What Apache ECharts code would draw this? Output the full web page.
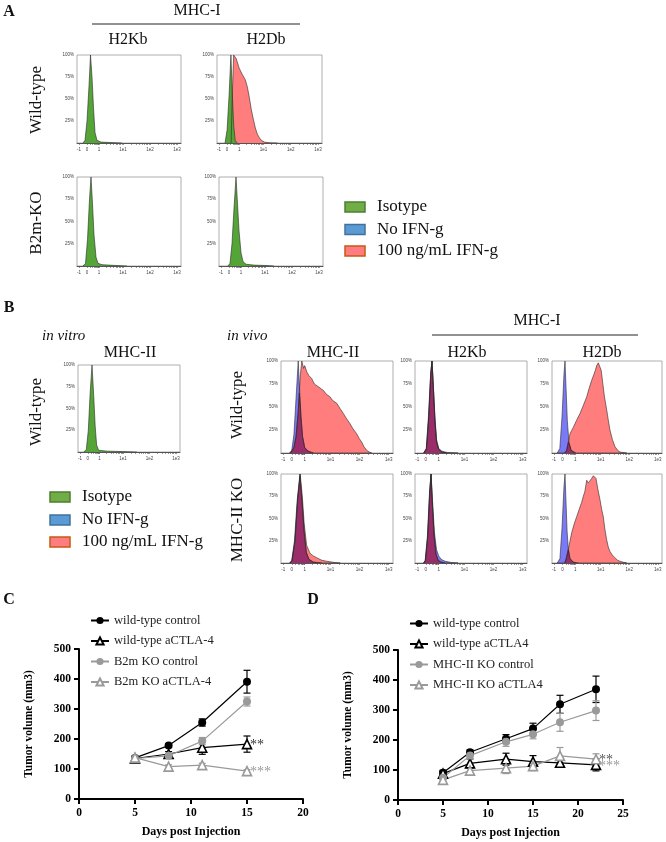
<!DOCTYPE html>
<html>
<head>
<meta charset="utf-8">
<script src="https://cdn.jsdelivr.net/npm/echarts@6/dist/echarts.min.js"></script>
<style>
  html, body { margin: 0; padding: 0; background: #fff; }
  #main { width: 666px; height: 842px; }
</style>
</head>
<body>
<div id="main"></div>
<script>
// ---- flow histograms: [position on display axis, % of max] ----
var histTickLabels = ["-1", "0", "1", "1e1", "1e2", "1e3"];
var histTickPos = [2, 10, 22, 46, 73, 100];
var histYTicks = [25, 50, 75, 100];

// panel A
var aWtKbIso = [[6,0],[8,3],[10,25],[12,65],[13.5,100],[15,75],[16.5,40],[18,12],[20,3],[24,1],[34,0.5],[45,0]];
var aWtDbIso = [[8,0],[10,15],[12,55],[13.8,100],[15,60],[16.5,20],[18,3],[20,0]];
var aWtDbIfn = [[14,0],[15,50],[16.5,100],[19,96],[22,85],[25,78],[28,72],[30,64],[32,52],[34,38],[36,27],[38,17],[40,10],[42,6],[44,3],[47,1],[52,0.3],[60,0]];
var aKoKbIso = [[6,0],[8.5,3],[10.5,30],[12.5,75],[14,100],[15.5,70],[17,35],[19,10],[21,3],[25,1.5],[32,1],[40,0.5],[50,0]];
var aKoDbIso = [[9,0],[11,3],[13,25],[15,65],[17,100],[18.5,70],[20,40],[22,15],[24,5],[27,2],[35,1],[48,0.5],[55,0]];

// panel B, in vitro
var bVitroIso = [[6,0],[8.5,3],[10.5,25],[12.5,70],[14.3,100],[16,65],[17.5,30],[19,8],[21,2],[30,1],[45,0.5],[60,0]];

// panel B, in vivo (blue = no IFN-g, red = 100 ng/mL IFN-g)
var bWtMhc2Blue = [[8,0],[10,3],[12,20],[14,60],[16,100],[17,75],[18.5,40],[20,18],[22,6],[25,2],[30,0]];
var bWtMhc2Red = [[9,0],[12,6],[14,18],[16,45],[18,85],[19.3,100],[21,92],[22,95],[24,88],[26,84],[28.5,81],[30,83],[31,75],[34.7,72],[37,70],[39.4,68],[40.5,70],[42,64],[45.6,61],[47,62],[48,57],[51.8,54],[53,55],[55,48],[57.9,43],[61,37],[64,32],[67,26],[70.3,21],[72.5,16],[74.9,12],[77,7],[79.5,3],[82,1],[84.2,0]];
var bWtKbBlue = [[8,0],[10.5,5],[12.5,40],[14.5,85],[15.8,100],[17,75],[18.5,40],[20,15],[22,5],[25,2],[30,0.5],[40,0]];
var bWtKbRed = [[8.5,0],[10.8,5],[12.8,40],[14.7,88],[15.8,100],[17,72],[18.5,35],[20,12],[22,4],[25,1],[30,0]];
var bWtDbBlue = [[5,0],[7.4,5],[9.5,40],[11.3,85],[12.3,100],[13.3,70],[14.5,35],[16,12],[18,3],[22,0]];
var bWtDbRed = [[12,0],[13.9,3],[15.5,12],[17,21],[20.2,28],[23,35],[26.5,43],[29,50],[32.8,61],[35,70],[37.5,79],[39.5,85],[41,90],[42.2,95],[43.8,98],[44.5,96],[45.4,98],[46.5,90],[47.9,77],[49.5,62],[51.7,47],[53.2,36],[54.8,25],[57,15],[59.5,7],[62,3],[64.3,1],[70.6,0]];
var bKoMhc2Blue = [[8,0],[10,3],[12.5,25],[15,70],[17.6,100],[19.5,70],[21.5,35],[23.5,12],[26,4],[30,1],[38,0]];
var bKoMhc2Red = [[8.5,0],[10.5,3],[13,25],[15.5,72],[17.8,100],[19.8,75],[21.5,45],[23.8,20],[26.9,11],[30,8],[33.1,6],[38,3],[42.4,2],[50,0.5],[55,0]];
var bKoKbBlue = [[8,0],[9.5,3],[11.5,30],[13.5,80],[14.9,100],[16.3,70],[18,35],[20,15],[22,8],[24.5,4],[28,2],[34,0.5],[40,0]];
var bKoKbRed = [[8,0],[9.8,3],[11.8,30],[13.7,80],[14.9,100],[16.2,65],[17.8,30],[19.5,10],[21.5,3],[24,1],[28,0]];
var bKoDbBlue = [[5,0],[7.5,5],[9.5,40],[11.3,85],[12.3,100],[13.2,70],[14.3,35],[15.5,15],[17,5],[20,1],[24,0]];
var bKoDbRed = [[12,0],[13.5,5],[15.4,15],[18.6,34],[21,44],[23.3,52],[26.5,63],[28,68],[29.6,75],[31,80],[32.8,93],[34.3,90],[35.9,88],[37.5,95],[39.1,98],[40.3,100],[41.6,95],[43.5,82],[45.4,71],[47,60],[48.5,52],[50,38],[51.7,26],[53.2,18],[54.8,13],[57,9],[59.5,6],[62,3],[64.3,2],[67,1],[70.6,0]];

// ---- tumour growth (C and D) ----
var cDays = [5, 8, 11, 15];
var cWtCtrl = [137, 178, 255, 391];
var cWtCtrlErr = [6, 6, 12, 38];
var cWtCtla = [135, 150, 171, 183];
var cWtCtlaErr = [5, 8, 22, 27];
var cKoCtrl = [135, 144, 193, 325];
var cKoCtrlErr = [5, 6, 12, 15];
var cKoCtla = [138, 108, 113, 93];
var cKoCtlaErr = [5, 6, 6, 5];

var dDays = [5, 8, 12, 15, 18, 22];
var dWtCtrl = [91, 159, 204, 238, 319, 369];
var dWtCtrlErr = [8, 8, 14, 18, 30, 44];
var dWtCtla = [88, 122, 136, 128, 124, 117];
var dWtCtlaErr = [8, 15, 20, 20, 15, 20];
var dKoCtrl = [74, 148, 194, 219, 259, 298];
var dKoCtrlErr = [6, 10, 15, 15, 30, 33];
var dKoCtla = [67, 98, 106, 113, 147, 136];
var dKoCtlaErr = [6, 10, 18, 15, 28, 18];

var SERIF = "'Liberation Serif', 'Times New Roman', serif";
var GREEN = "#55a437", BLUE = "#7a7af6", RED = "#ff7d7d", PURPLE = "#9a2c6a";
var GRAY = "#9a9a9a";

var chartDom = document.getElementById("main");
var myChart = echarts.init(chartDom, null, { renderer: "canvas" });

// grid boxes for the 11 histograms
var histBoxes = [
  { left: 77, top: 55, width: 104, height: 88 },
  { left: 217, top: 55, width: 105, height: 88 },
  { left: 77, top: 177, width: 104, height: 89 },
  { left: 219, top: 177, width: 104, height: 89 },
  { left: 78, top: 365, width: 102, height: 87 },
  { left: 281, top: 361, width: 112, height: 92 },
  { left: 415, top: 361, width: 112, height: 92 },
  { left: 552, top: 361, width: 110, height: 92 },
  { left: 281, top: 474, width: 112, height: 89 },
  { left: 415, top: 474, width: 112, height: 89 },
  { left: 552, top: 474, width: 110, height: 89 },
];

// minor ticks between decades (log spacing)
var minorTicks = histTickPos.slice();
[[1, 2], [2, 3], [3, 4], [4, 5]].forEach(function (pair) {
  var a = histTickPos[pair[0]], b = histTickPos[pair[1]];
  for (var k = 2; k <= 9; k++) minorTicks.push(a + (b - a) * Math.log10(k));
});

function interp(pts, x) {
  if (x <= pts[0][0] || x >= pts[pts.length - 1][0]) return 0;
  for (var i = 1; i < pts.length; i++) {
    if (x <= pts[i][0]) {
      var t = (x - pts[i - 1][0]) / (pts[i][0] - pts[i - 1][0]);
      return pts[i - 1][1] + t * (pts[i][1] - pts[i - 1][1]);
    }
  }
  return 0;
}
function overlap(a, b) {
  var xs = a.map(function (p) { return p[0]; }).concat(b.map(function (p) { return p[0]; }));
  xs.sort(function (p, q) { return p - q; });
  var out = [];
  for (var i = 0; i < xs.length; i++) {
    if (i > 0 && xs[i] === xs[i - 1]) continue;
    out.push([xs[i], Math.min(interp(a, xs[i]), interp(b, xs[i]))]);
  }
  return out;
}

var grids = [], xAxes = [], yAxes = [], series = [];
histBoxes.forEach(function (b, i) {
  grids.push({ left: b.left, top: b.top, width: b.width, height: b.height, show: true, borderColor: "#9a9a9a", borderWidth: 0.8 });
  xAxes.push({
    gridIndex: i, type: "value", min: 0, max: 104,
    axisLine: { show: true, lineStyle: { color: "#333", width: 0.8 } },
    axisTick: { show: true, customValues: minorTicks, length: 2, lineStyle: { color: "#555", width: 0.6 } },
    axisLabel: {
      customValues: histTickPos, fontSize: 4.5, color: "#444", margin: 4, fontFamily: "Arial",
      formatter: function (v) { var k = histTickPos.indexOf(v); return k >= 0 ? histTickLabels[k] : ""; },
    },
    splitLine: { show: false },
  });
  yAxes.push({
    gridIndex: i, type: "value", min: 0, max: 100,
    axisLine: { show: false }, axisTick: { show: false },
    axisLabel: { customValues: histYTicks, fontSize: 4.5, color: "#444", margin: 3, fontFamily: "Arial", formatter: "{value}%" },
    splitLine: { show: false },
  });
});

function hist(gi, data, color) {
  series.push({
    type: "line", xAxisIndex: gi, yAxisIndex: gi, data: data, symbol: "none", silent: true,
    lineStyle: { color: "#2a2a2a", width: 0.6 }, areaStyle: { color: color, opacity: 1 },
    animation: false,
  });
}

hist(0, aWtKbIso, GREEN);
hist(1, aWtDbIfn, RED);
hist(1, aWtDbIso, GREEN);
hist(2, aKoKbIso, GREEN);
hist(3, aKoDbIso, GREEN);
hist(4, bVitroIso, GREEN);
[[5, bWtMhc2Blue, bWtMhc2Red], [6, bWtKbBlue, bWtKbRed], [7, bWtDbBlue, bWtDbRed],
 [8, bKoMhc2Blue, bKoMhc2Red], [9, bKoKbBlue, bKoKbRed], [10, bKoDbBlue, bKoDbRed]].forEach(function (p) {
  hist(p[0], p[1], BLUE);
  hist(p[0], p[2], RED);
  hist(p[0], overlap(p[1], p[2]), PURPLE);
});

// ---- C and D ----
var gC = histBoxes.length, gD = gC + 1;
grids.push({ left: 79, top: 649, width: 224, height: 150 });
grids.push({ left: 398, top: 650, width: 225, height: 150 });

function growthAxes(gi, xmax) {
  var lab = { fontFamily: SERIF, fontWeight: "bold", fontSize: 11.5, color: "#000" };
  xAxes.push({
    gridIndex: gi, type: "value", min: 0, max: xmax, interval: 5,
    name: "Days post Injection", nameLocation: "middle", nameGap: 27,
    nameTextStyle: { fontFamily: SERIF, fontWeight: "bold", fontSize: 12, color: "#000" },
    axisLine: { lineStyle: { color: "#000", width: 2 } },
    axisTick: { length: 5, lineStyle: { color: "#000", width: 2 } },
    axisLabel: Object.assign({ margin: 8 }, lab),
    splitLine: { show: false },
  });
  yAxes.push({
    gridIndex: gi, type: "value", min: 0, max: 500, interval: 100,
    name: "Tumor volume (mm3)", nameLocation: "middle", nameGap: 44, nameRotate: 90,
    nameTextStyle: { fontFamily: SERIF, fontWeight: "bold", fontSize: 11.5, color: "#000" },
    axisLine: { show: true, lineStyle: { color: "#000", width: 2 } },
    axisTick: { show: true, length: 5, lineStyle: { color: "#000", width: 2 } },
    axisLabel: Object.assign({ margin: 8 }, lab),
    splitLine: { show: false },
  });
}
growthAxes(gC, 20);
growthAxes(gD, 25);

function errBars(gi, days, mean, err, color) {
  series.push({
    type: "custom", xAxisIndex: gi, yAxisIndex: gi, z: 1, silent: true, animation: false,
    data: days.map(function (d, i) { return [d, mean[i] - err[i], mean[i] + err[i]]; }),
    encode: { x: 0, y: [1, 2] },
    renderItem: function (params, api) {
      var lo = api.coord([api.value(0), api.value(1)]);
      var hi = api.coord([api.value(0), api.value(2)]);
      var st = { stroke: color, lineWidth: 1.2 };
      return {
        type: "group", children: [
          { type: "line", shape: { x1: lo[0], y1: lo[1], x2: hi[0], y2: hi[1] }, style: st },
          { type: "line", shape: { x1: lo[0] - 3.5, y1: lo[1], x2: lo[0] + 3.5, y2: lo[1] }, style: st },
          { type: "line", shape: { x1: hi[0] - 3.5, y1: hi[1], x2: hi[0] + 3.5, y2: hi[1] }, style: st },
        ],
      };
    },
  });
}

function growth(gi, name, days, mean, color, open, star, starColor) {
  var s = {
    name: name, type: "line", xAxisIndex: gi, yAxisIndex: gi, z: 3, animation: false,
    data: days.map(function (d, i) { return [d, mean[i]]; }),
    symbol: open ? "triangle" : "circle", symbolSize: open ? 9 : 8,
    itemStyle: open ? { color: "#fff", borderColor: color, borderWidth: 1.6 } : { color: color },
    lineStyle: { color: color, width: 1.2 },
  };
  if (star) {
    s.endLabel = { show: true, formatter: star, color: starColor, fontSize: 14, fontFamily: SERIF, distance: 3, offset: [0, 1] };
  }
  series.push(s);
}

errBars(gC, cDays, cWtCtrl, cWtCtrlErr, "#000");
errBars(gC, cDays, cWtCtla, cWtCtlaErr, "#000");
errBars(gC, cDays, cKoCtrl, cKoCtrlErr, GRAY);
errBars(gC, cDays, cKoCtla, cKoCtlaErr, GRAY);
growth(gC, "wild-type control", cDays, cWtCtrl, "#000", false);
growth(gC, "wild-type aCTLA-4", cDays, cWtCtla, "#000", true, "**", "#333");
growth(gC, "B2m KO control", cDays, cKoCtrl, GRAY, false);
growth(gC, "B2m KO aCTLA-4", cDays, cKoCtla, GRAY, true, "***", GRAY);

errBars(gD, dDays, dWtCtrl, dWtCtrlErr, "#000");
errBars(gD, dDays, dWtCtla, dWtCtlaErr, "#000");
errBars(gD, dDays, dKoCtrl, dKoCtrlErr, GRAY);
errBars(gD, dDays, dKoCtla, dKoCtlaErr, GRAY);
growth(gD, "wild-type control ", dDays, dWtCtrl, "#000", false);
growth(gD, "wild-type aCTLA4", dDays, dWtCtla, "#000", true, "***", GRAY);
growth(gD, "MHC-II KO control", dDays, dKoCtrl, GRAY, false);
growth(gD, "MHC-II KO aCTLA4", dDays, dKoCtla, GRAY, true, "**", "#555");

var legendText = { fontFamily: SERIF, fontSize: 12.5, color: "#222" };
var legends = [
  { left: 90, top: 614, padding: 0, orient: "vertical", itemWidth: 18, itemHeight: 9, itemGap: 7.5, textStyle: legendText, selectedMode: false,
    data: ["wild-type control", "wild-type aCTLA-4", "B2m KO control", "B2m KO aCTLA-4"] },
  { left: 409, top: 617, padding: 0, orient: "vertical", itemWidth: 18, itemHeight: 9, itemGap: 7.5, textStyle: legendText, selectedMode: false,
    data: ["wild-type control ", "wild-type aCTLA4", "MHC-II KO control", "MHC-II KO aCTLA4"] },
];

// ---- text, headers, legends for flow panels ----
function txt(text, x, y, size, opts) {
  opts = opts || {};
  return {
    type: "text", x: x, y: y, rotation: opts.rot || 0, silent: true,
    style: {
      text: text, fill: "#111", align: opts.align || "center", verticalAlign: "middle",
      font: (opts.style || "normal") + " " + (opts.weight || "normal") + " " + size + "px " + SERIF,
    },
  };
}
function hline(x1, x2, y) {
  return { type: "line", silent: true, shape: { x1: x1, y1: y, x2: x2, y2: y }, style: { stroke: "#222", lineWidth: 1 } };
}
function swatch(x, y, fill, stroke) {
  return { type: "rect", silent: true, shape: { x: x, y: y, width: 20, height: 10 }, style: { fill: fill, stroke: stroke, lineWidth: 1.5 } };
}
var legendItems = ["Isotype", "No IFN-g", "100 ng/mL IFN-g"];
var legendFill = ["#70ad47", "#5b9bd5", "#ff7c80"];
var legendStroke = ["#4e7d31", "#41719c", "#c55a11"];

var graphics = [
  txt("A", 9, 12, 16, { weight: "bold" }),
  txt("MHC-I", 197, 11, 16),
  hline(92, 300, 24),
  txt("H2Kb", 128, 40, 16),
  txt("H2Db", 266, 40, 16),
  txt("Wild-type", 37, 100, 17, { rot: Math.PI / 2 }),
  txt("B2m-KO", 37, 223, 17, { rot: Math.PI / 2 }),
  txt("B", 9, 308, 16, { weight: "bold" }),
  txt("in vitro", 42, 336, 15, { style: "italic", align: "left" }),
  txt("MHC-II", 130, 353, 16),
  txt("Wild-type", 37, 412, 17, { rot: Math.PI / 2 }),
  txt("in vivo", 227, 336, 15, { style: "italic", align: "left" }),
  txt("MHC-I", 537, 321, 16),
  hline(432, 638, 335),
  txt("MHC-II", 333, 353, 16),
  txt("H2Kb", 467, 353, 16),
  txt("H2Db", 602, 353, 16),
  txt("Wild-type", 238, 405, 17, { rot: Math.PI / 2 }),
  txt("MHC-II KO", 238, 520, 17, { rot: Math.PI / 2 }),
  txt("C", 9, 600, 16, { weight: "bold" }),
  txt("D", 313, 600, 16, { weight: "bold" }),
];
legendItems.forEach(function (name, i) {
  var ya = [207, 229.5, 251][i];
  graphics.push(swatch(345, ya - 5, legendFill[i], legendStroke[i]));
  graphics.push(txt(name, 377, ya, 17, { align: "left" }));
  var yb = [497, 520, 542][i];
  graphics.push(swatch(50, yb - 5, legendFill[i], legendStroke[i]));
  graphics.push(txt(name, 82, yb, 17, { align: "left" }));
});

var option = {
  animation: false,
  grid: grids,
  xAxis: xAxes,
  yAxis: yAxes,
  legend: legends,
  series: series,
  graphic: graphics,
};
option && myChart.setOption(option);
</script>
</body>
</html>
